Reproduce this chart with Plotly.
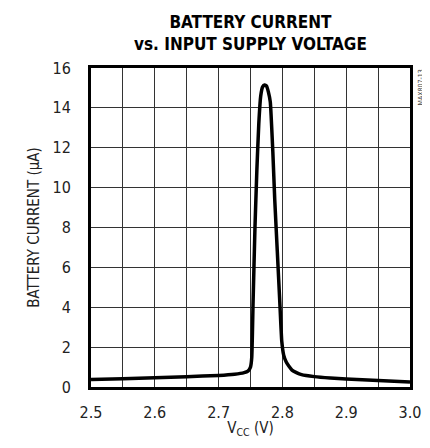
import plotly.graph_objects as go

vcc = [2.500, 2.550, 2.600, 2.650, 2.700, 2.725, 2.740, 2.746, 2.750, 2.752,
       2.754, 2.757, 2.760, 2.763, 2.766, 2.769, 2.772, 2.775, 2.778, 2.781,
       2.785, 2.788, 2.792, 2.796, 2.799, 2.802, 2.806, 2.810, 2.815, 2.822,
       2.830, 2.850, 2.875, 2.900, 2.950, 3.000]
current = [0.37, 0.42, 0.47, 0.52, 0.58, 0.64, 0.72, 0.80, 1.00, 1.5,
           4.2, 8.0, 10.9, 13.2, 14.6, 15.05, 15.15, 15.1, 14.8, 14.3,
           11.8, 9.4, 6.8, 4.2, 2.3, 1.6, 1.25, 1.05, 0.85, 0.72,
           0.62, 0.52, 0.45, 0.40, 0.32, 0.25]

FONT = "DejaVu Sans Condensed, Liberation Sans Narrow, sans-serif"

fig = go.Figure()
fig.add_trace(go.Scatter(x=vcc, y=current, mode="lines",
                         line=dict(color="black", width=3.5, shape="spline", smoothing=0.4),
                         showlegend=False))

fig.update_layout(
    width=422, height=430,
    margin=dict(l=83, r=20, t=60, b=51, autoexpand=False),
    paper_bgcolor="white", plot_bgcolor="white",
    font=dict(family=FONT, size=16, color="#222"),
)
fig.add_annotation(text="<b>BATTERY CURRENT<br>vs. INPUT SUPPLY VOLTAGE</b>",
                   xref="paper", yref="paper", x=0.5, y=1.11,
                   xanchor="center", yanchor="middle", showarrow=False,
                   font=dict(family=FONT, size=17, color="black"))
fig.update_xaxes(range=[2.5, 3.0], dtick=0.1, tick0=2.5, tickformat=".1f",
                 showgrid=True, gridcolor="#333", gridwidth=1,
                 minor=dict(dtick=0.05, showgrid=True, gridcolor="#333", gridwidth=1),
                 showline=True, linecolor="black", linewidth=3, mirror=True,
                 ticks="outside", ticklen=9, tickcolor="rgba(0,0,0,0)",
                 zeroline=False, automargin=False,
                 title=dict(text="V<sub>CC</sub> (V)", standoff=10,
                            font=dict(family=FONT, size=15)))
fig.update_yaxes(range=[0, 16], dtick=2,
                 showgrid=True, gridcolor="#333", gridwidth=1,
                 showline=True, linecolor="black", linewidth=3, mirror=True,
                 ticks="outside", ticklen=14, tickcolor="rgba(0,0,0,0)",
                 zeroline=False, automargin=False,
                 title=dict(text="BATTERY CURRENT (μA)", standoff=10,
                            font=dict(family=FONT, size=15)))

fig.add_annotation(text="MAX807-13", xref="paper", yref="paper", x=1.033, y=1.0,
                   xanchor="center", yanchor="top", textangle=-90, showarrow=False,
                   font=dict(family=FONT, size=7, color="#444"))

fig.write_html("out.html")
